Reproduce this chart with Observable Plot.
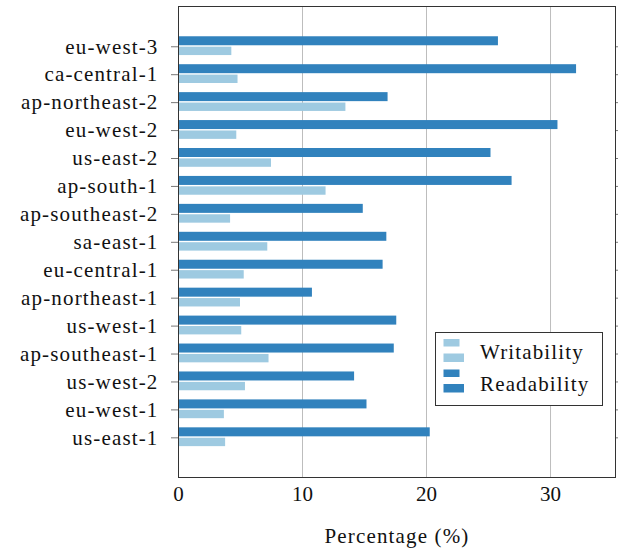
<!DOCTYPE html>
<html>
<head>
<meta charset="utf-8">
<script src="https://cdn.jsdelivr.net/npm/d3@7"></script>
<script src="https://cdn.jsdelivr.net/npm/@observablehq/plot@0.6"></script>
<style>
  html, body { margin: 0; padding: 0; background: #fff; }
  #wrap { position: relative; width: 618px; height: 550px; }
  #wrap svg { display: block; }
  #legend { position: absolute; left: 0; top: 0; pointer-events: none; }
</style>
</head>
<body>
<div id="wrap"></div>
<script>
const regions = ["eu-west-3","ca-central-1","ap-northeast-2","eu-west-2","us-east-2","ap-south-1","ap-southeast-2","sa-east-1","eu-central-1","ap-northeast-1","us-west-1","ap-southeast-1","us-west-2","eu-west-1","us-east-1"];
const readability = [25.8, 32.1, 16.9, 30.6, 25.2, 26.9, 14.9, 16.8, 16.5, 10.8, 17.6, 17.4, 14.2, 15.2, 20.3];
const writability = [4.3, 4.8, 13.5, 4.7, 7.5, 11.9, 4.2, 7.2, 5.3, 5.0, 5.1, 7.3, 5.4, 3.7, 3.8];
const seriesNames = ["Writability", "Readability"];
const seriesColors = ["#9ecae1", "#3182bd"];
const xTicks = [0, 10, 20, 30];
const xLabel = "Percentage (%)";

const FONT = "Liberation Serif, serif";
const LS = "1.15px";
const readRows = regions.map((r, i) => ({region: r, value: readability[i]}));
const writeRows = regions.map((r, i) => ({region: r, value: writability[i]}));

const W = 618, H = 550;
const mT = 6, mB = 73, mL = 178, mR = 3;
const yInsetTop = 26.3, yInsetBottom = 25.7;
const band = (H - mT - mB - yInsetTop - yInsetBottom) / regions.length;

const chart = Plot.plot({
  width: W,
  height: H,
  marginTop: mT,
  marginBottom: mB,
  marginLeft: mL,
  marginRight: mR,
  style: {fontFamily: FONT, fontSize: "21px", background: "#fff", color: "#111", letterSpacing: LS},
  x: {domain: [0, 35.24]},
  y: {type: "band", domain: regions, padding: 0, round: false, insetTop: yInsetTop, insetBottom: yInsetBottom},
  marks: [
    Plot.gridX(xTicks.filter(d => d > 0), {stroke: "#bdbdbd", strokeOpacity: 1, strokeWidth: 1}),
    Plot.barX(readRows, {x: "value", y: "region", fill: seriesColors[1],
      insetTop: band / 2 - 10, insetBottom: band / 2 + 1}),
    Plot.barX(writeRows, {x: "value", y: "region", fill: seriesColors[0],
      insetTop: band / 2 + 0.4, insetBottom: band / 2 - 8.8}),
    Plot.frame({stroke: "#333", strokeWidth: 1}),
    Plot.axisY({anchor: "left", tickSize: 7, tickPadding: 13, stroke: "#777", fontSize: 21, fontFamily: FONT, label: null}),
    Plot.axisY({anchor: "right", tickSize: 3, tickFormat: () => "", stroke: "#777", label: null}),
    Plot.axisX({anchor: "bottom", ticks: xTicks, tickSize: 0, tickPadding: 9, fontSize: 21, fontFamily: FONT, label: null}),
    Plot.text([xLabel], {frameAnchor: "bottom", text: d => d, dy: 59, lineAnchor: "middle", fontSize: 21, fontFamily: FONT, fill: "#111"})
  ]
});

// digits keep normal spacing
d3.select(chart).selectAll("g[aria-label='x-axis tick label'] text").style("letter-spacing", "0px");

const wrap = document.getElementById("wrap");
wrap.appendChild(chart);

// legend overlay
const lg = d3.select(wrap).append("svg").attr("id", "legend").attr("width", W).attr("height", H);
const box = {x: 435.5, y: 332.5, w: 167, h: 73};
lg.append("rect").attr("x", box.x).attr("y", box.y).attr("width", box.w).attr("height", box.h)
  .attr("fill", "#fff").attr("stroke", "#333").attr("stroke-width", 1);
seriesNames.forEach((name, i) => {
  const top = 339 + i * 30.5;
  lg.append("rect").attr("x", 443.5).attr("y", top).attr("width", 16).attr("height", 7.5).attr("fill", seriesColors[i]);
  lg.append("rect").attr("x", 443.5).attr("y", top + 14.5).attr("width", 20.5).attr("height", 8.5).attr("fill", seriesColors[i]);
  lg.append("text").attr("x", 480).attr("y", 359.3 + i * 31.4).text(name)
    .attr("font-family", FONT).attr("font-size", 21).attr("fill", "#111").style("letter-spacing", LS);
});
</script>
</body>
</html>
